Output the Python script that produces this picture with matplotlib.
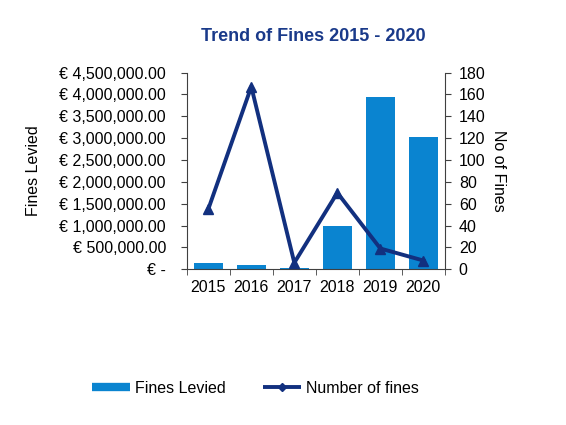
import matplotlib
matplotlib.use("Agg")
import matplotlib.pyplot as plt
import numpy as np
from matplotlib.ticker import FuncFormatter, FixedLocator
from matplotlib.lines import Line2D

plt.rcParams['font.family'] = ['Liberation Sans', 'DejaVu Sans']

years = ["2015", "2016", "2017", "2018", "2019", "2020"]
fines_levied = [138000, 100000, 35000, 1000000, 3930000, 3030000]
number_of_fines = [55, 167, 6, 70, 19, 8]

bar_color = "#0A84D0"
line_color = "#12307F"
fs = 11.5

fig = plt.figure(figsize=(5.66, 4.25), dpi=100)
ax = fig.add_axes([0.330, 0.3664, 0.456, 0.463])
x = np.arange(len(years))
bars = ax.bar(x, fines_levied, width=0.68, color=bar_color, label="Fines Levied", zorder=2)
ax.set_ylim(0, 4500000)
ax.set_xlim(-0.5, len(years) - 0.5)
ax.set_yticks(np.arange(0, 4500001, 500000))

def eur(v, pos):
    if v == 0:
        return "€ -"
    return "€ {:,.2f}".format(v)

ax.yaxis.set_major_formatter(FuncFormatter(eur))
ax.set_xticks(x)
ax.set_xticklabels(years)
ax.xaxis.set_minor_locator(FixedLocator(np.arange(-0.5, len(years), 1.0)))
ax.tick_params(axis='x', which='major', length=0, labelsize=fs, pad=8)
ax.tick_params(axis='x', which='minor', length=4, direction='out', color='#404040')
ax.tick_params(axis='y', length=4, direction='out', labelsize=fs, color='#404040', pad=11)
for s in ['top', 'right']:
    ax.spines[s].set_visible(False)
ax.spines['left'].set_color('#404040')
ax.spines['bottom'].set_color('#404040')
ax.set_ylabel("Fines Levied", fontsize=fs, labelpad=13)

ax2 = ax.twinx()
line, = ax2.plot(x, number_of_fines, color=line_color, linewidth=2.8, marker='^',
                 markersize=7, label="Number of fines", zorder=3)
ax2.set_ylim(0, 180)
ax2.set_yticks(np.arange(0, 181, 20))
ax2.tick_params(axis='y', length=4, direction='out', labelsize=fs, color='#404040', pad=6)
for s in ['top', 'left', 'bottom']:
    ax2.spines[s].set_visible(False)
ax2.spines['right'].set_color('#404040')
ax2.set_ylabel("No of Fines", fontsize=fs, rotation=270, labelpad=15)

fig.text(0.553, 0.914, "Trend of Fines 2015 - 2020", ha='center', va='center',
         fontsize=13, fontweight='bold', color="#1A3A8A")

h_bar = Line2D([0], [0], color=bar_color, linewidth=6, solid_capstyle='butt')
h_line = Line2D([0], [0], color=line_color, linewidth=2.8, marker='D', markersize=4,
                solid_capstyle='butt')
fig.legend([h_bar, h_line], ["Fines Levied", "Number of fines"], loc='center',
           bbox_to_anchor=(0.451, 0.087), ncol=2, frameon=False, fontsize=fs,
           handlelength=2.4, handletextpad=0.3, columnspacing=2.3)

fig.savefig("out.png", dpi=100)
